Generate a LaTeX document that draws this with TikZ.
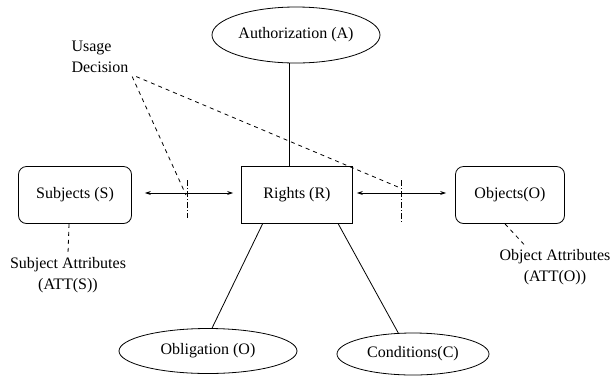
\documentclass[tikz,border=0pt]{standalone}
\usepackage{fontspec}
\setmainfont{Liberation Serif}
\usetikzlibrary{shapes.geometric,arrows.meta}

\begin{document}
\begin{tikzpicture}[x=1pt, y=-1pt, font=\fontsize{16}{21}\selectfont, line width=0.8pt]

\tikzstyle{box} = [draw, rectangle, minimum width=111pt, minimum height=57pt]
\tikzstyle{rbox} = [box, rounded corners=8pt]
\tikzstyle{oval} = [draw, ellipse, inner sep=0pt]
\tikzstyle{line} = [-]
\tikzstyle{biarrow} = [{Stealth[length=6pt,width=4pt]}-{Stealth[length=6pt,width=4pt]}]
\tikzstyle{attr} = [dash pattern=on 4pt off 4pt]
\tikzstyle{decline} = [dash pattern=on 6pt off 2pt on 1pt off 2pt]

\useasboundingbox (0,0) rectangle (611,376);

% Main boxes
\node (rights) [box] at (297,195) {Rights (R)};
\node (subj) [rbox, minimum width=113pt] at (75,195) {Subjects (S)};
\node (obj) [rbox, minimum width=109pt] at (510,195) {Objects(O)};

% Ovals
\node (auth) [oval, minimum width=168pt, minimum height=56pt] at (296,35) {Authorization (A)};
\node (oblig) [oval, minimum width=178pt, minimum height=45pt] at (208,351) {Obligation (O)};
\node (cond) [oval, minimum width=152pt, minimum height=42pt] at (413,354) {Conditions(C)};

% Labels
\node (usage) [align=left] at (100,57) {Usage\\Decision};
\node (attrS) [align=center] at (68,275) {Subject Attributes\\(ATT(S))};
\node (attrO) [align=center] at (555,267) {Object Attributes\\(ATT(O))};

% Decision points
\coordinate (dec1top) at (187,180);
\coordinate (dec1bot) at (187,218);
\coordinate (dec1) at (186,195);
\coordinate (dec2top) at (401,180);
\coordinate (dec2bot) at (401,222);
\coordinate (dec2) at (398,187);

% Paths
\draw [line] ([xshift=-7pt]auth.south) -- ([xshift=-8pt]rights.north);
\draw [line] (rights.220) -- (oblig.80);
\draw [line] (rights.325) -- (cond.125);
\draw [biarrow] ([xshift=13pt,yshift=2pt]subj.east) -- ([xshift=-8pt,yshift=2pt]rights.west);
\draw [biarrow] ([xshift=4pt,yshift=2pt]rights.east) -- ([xshift=-9pt,yshift=2pt]obj.west);
\draw [decline] (dec1top) -- (dec1bot);
\draw [decline] (dec2top) -- (dec2bot);
\draw [attr] (usage.south east) -- (dec1);
\draw [attr] ([xshift=4pt]usage.south east) -- (dec2);
\draw [attr] ([xshift=-6pt]subj.south) -- (attrS.north);
\draw [attr] ([xshift=-5pt]obj.south) -- ([xshift=-30pt]attrO.north);

\end{tikzpicture}
\end{document}
